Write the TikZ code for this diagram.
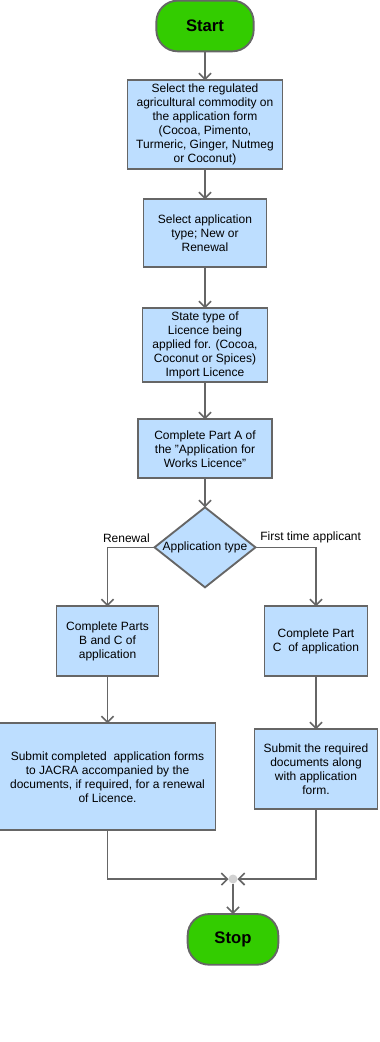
\documentclass[tikz,border=0pt]{standalone}
\usepackage{fontspec}
\setmainfont{Liberation Sans}
\usepackage{xcolor}
\usepackage{tikz}
\usetikzlibrary{shapes.geometric,arrows.meta,positioning}

\definecolor{boxblue}{HTML}{BDDEFF}
\definecolor{startgreen}{HTML}{33CC00}
\definecolor{edgegray}{HTML}{666666}

\begin{document}
\begin{tikzpicture}[x=0.75pt, y=-0.75pt, font=\fontsize{9}{10.5}\selectfont,
  box/.style={draw=edgegray, line width=1.4pt, fill=boxblue, align=center, inner sep=2pt, outer sep=0pt},
  term/.style={draw=edgegray, line width=1.4pt, fill=startgreen, rounded corners=16pt, minimum width=73pt, minimum height=38pt, outer sep=0pt, font=\fontsize{12.5}{14}\selectfont\bfseries},
  decision/.style={draw=edgegray, line width=1.4pt, fill=boxblue, diamond, minimum width=75.75pt, minimum height=60pt, inner sep=0pt, outer sep=0pt},
  dot/.style={circle, fill=gray!35, minimum size=6.75pt, inner sep=0pt, outer sep=0pt},
  arr/.style={-{Straight Barb[length=4.5pt, width=9pt]}, draw=edgegray, line width=1.2pt}]
\useasboundingbox (0,0) rectangle (379,1042);
% main column
\node[term] (start) at (205,26) {Start};
\node[box, below=21.75pt of start, minimum width=116.25pt, minimum height=66.75pt] (commodity) {Select the regulated\\agricultural commodity on\\the application form\\(Cocoa, Pimento,\\Turmeric, Ginger, Nutmeg\\or Coconut)};
\node[box, below=22.5pt of commodity, minimum width=92.25pt, minimum height=51pt] (apptype) {Select application\\type; New or\\Renewal};
\node[box, below=30.75pt of apptype, minimum width=93.75pt, minimum height=55.5pt] (licence) {State type of\\Licence being\\applied for. (Cocoa,\\Coconut or Spices)\\Import Licence};
\node[box, below=27.75pt of licence, minimum width=100.5pt, minimum height=44.25pt] (partA) {Complete Part A of\\the "Application for\\Works Licence"};
\node[decision, below=21.75pt of partA, label=center:{Application type}] (type) {};
% branches
\node[box, below=14.25pt of type, xshift=-73.1pt, minimum width=76.5pt, minimum height=52.5pt] (partsBC) {Complete Parts\\B and C of\\application};
\node[box, below=14.25pt of type, xshift=83.25pt, minimum width=77.25pt, minimum height=52.5pt] (partC) {Complete Part\\C\ \ of application};
\node[box, below=35.25pt of partsBC, minimum width=162pt, minimum height=80.25pt] (renew) {Submit completed\ \ application forms\\to JACRA accompanied by the\\documents, if required, for a renewal\\of Licence.};
\node[box, below=39.75pt of partC, minimum width=92.25pt, minimum height=60pt] (docs) {Submit the required\\documents along\\with application\\form.};
\node[dot] (join) at (233,879) {};
\node[term, below=22.9pt of join, minimum width=68pt] (stop) {Stop};

\draw[arr] (start) -- (commodity);
\draw[arr] (commodity) -- (apptype);
\draw[arr] (apptype) -- (licence);
\draw[arr] (licence) -- (partA);
\draw[arr] (partA) -- (type);
\draw[arr] (type.west) -| node[pos=0, above left, inner sep=3pt] {Renewal} (partsBC);
\draw[arr] (type.east) -| node[pos=0, above right, inner sep=3pt] {First time applicant} (partC);
\draw[arr] (partsBC) -- (renew);
\draw[arr] (partC) -- (docs);
\draw[arr] (renew.south) |- (join);
\draw[arr] (docs.south) |- (join);
\draw[arr] (join) -- (stop);
\end{tikzpicture}
\end{document}
